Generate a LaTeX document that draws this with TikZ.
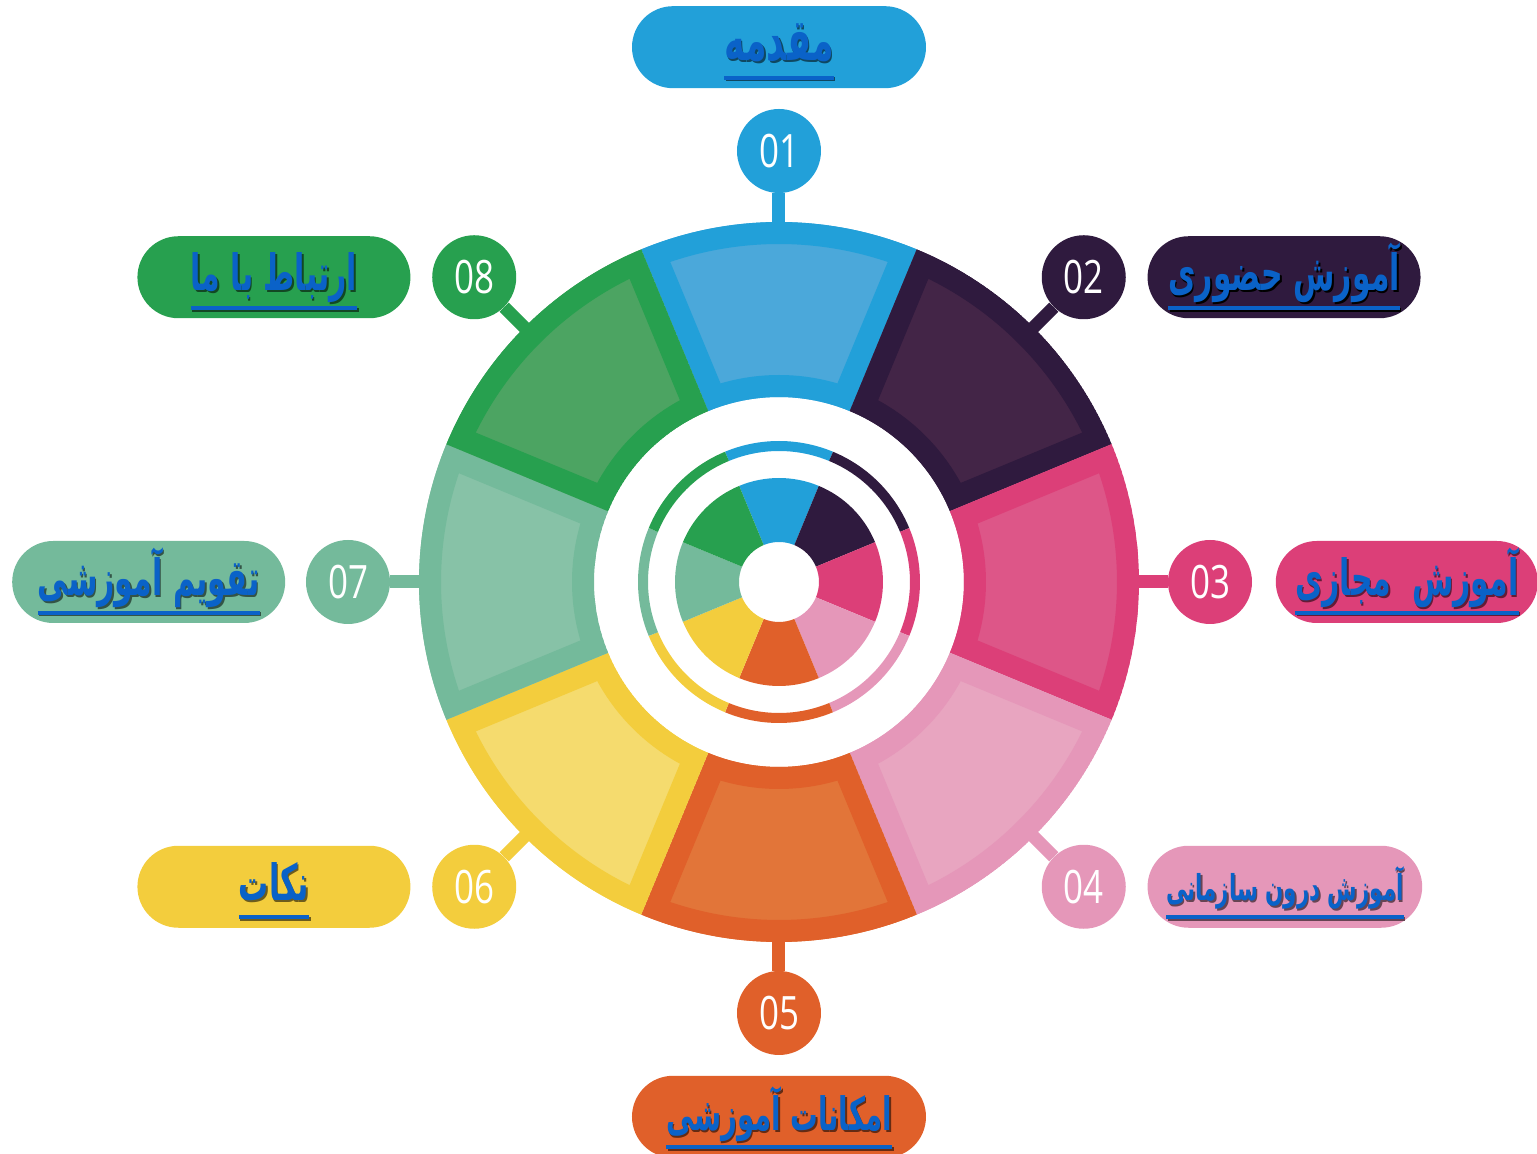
\documentclass[tikz,border=0pt]{standalone}
\usepackage{fontspec}
\setmainfont{Open Sans}
\newfontfamily\numfont[FakeStretch=0.76]{Open Sans}
\newfontfamily\arabicfont[Script=Arabic,FakeStretch=0.6]{DejaVu Sans}
\TeXXeTstate=1
\usetikzlibrary{positioning,shapes.misc}

\definecolor{blueD}{HTML}{22A0D9}   \definecolor{blueL}{HTML}{4BA8DA}
\definecolor{purpleD}{HTML}{2F1A3E} \definecolor{purpleL}{HTML}{432547}
\definecolor{pinkD}{HTML}{DC3F78}   \definecolor{pinkL}{HTML}{DD5688}
\definecolor{roseD}{HTML}{E597B9}   \definecolor{roseL}{HTML}{E8A5C0}
\definecolor{orangeD}{HTML}{E0602A} \definecolor{orangeL}{HTML}{E27539}
\definecolor{yellowD}{HTML}{F3CD3D} \definecolor{yellowL}{HTML}{F5DB6E}
\definecolor{tealD}{HTML}{74BA9B}   \definecolor{tealL}{HTML}{87C2A7}
\definecolor{greenD}{HTML}{27A04F}  \definecolor{greenL}{HTML}{4CA462}
\definecolor{linkblue}{HTML}{0A62C8}

% underlined persian label, with a soft shadow
\newcommand\ulbox[2]{{\color{#1}\vbox{\hbox{\arabicfont\bfseries\smash{#2}\vrule height 24pt depth 0pt width 0pt}\kern7.5pt\hrule height 2pt}}}
\newcommand\lbl[2]{\rlap{\kern0.8pt\raisebox{-0.8pt}{\ulbox{#1}{#2}}}\ulbox{linkblue}{#2}}

\begin{document}
\begin{tikzpicture}[x=0.5pt,y=0.5pt,
    numdot/.style={circle,fill=#1,text=white,minimum size=42pt,inner sep=0pt,
      font=\numfont\fontsize{23}{23}\selectfont},
    pill/.style={rounded rectangle,fill=#1,minimum width=136.5pt,minimum height=41pt,
      inner sep=0pt,font=\fontsize{25}{28}\selectfont},
    stub/.style={draw=#1,line width=6.5pt}]
\useasboundingbox (-779,-572) rectangle (758,582);

% wheel
\foreach \i/\c in {1/blue,2/purple,3/pink,4/rose,5/orange,6/yellow,7/teal,8/green}{
  \pgfmathsetmacro\a{135-45*\i}
  \begin{scope}
    \clip (\a-22.5:185) arc[start angle=\a-22.5,end angle=\a+22.5,radius=185]
      -- (\a+22.5:360) arc[start angle=\a+22.5,end angle=\a-22.5,radius=360] -- cycle;
    \fill[\c L] (\a-22.5:185) arc[start angle=\a-22.5,end angle=\a+22.5,radius=185]
      -- (\a+22.5:360) arc[start angle=\a+22.5,end angle=\a-22.5,radius=360] -- cycle;
    \draw[\c D,line width=22pt] (\a-22.5:185) arc[start angle=\a-22.5,end angle=\a+22.5,radius=185]
      -- (\a+22.5:360) arc[start angle=\a+22.5,end angle=\a-22.5,radius=360] -- cycle;
  \end{scope}
  \draw[\c D,line width=5pt] (\a-22.5:136) arc[start angle=\a-22.5,end angle=\a+22.5,radius=136];
  \fill[\c D] (\a-22.5:40) arc[start angle=\a-22.5,end angle=\a+22.5,radius=40]
    -- (\a+22.5:104) arc[start angle=\a+22.5,end angle=\a-22.5,radius=104] -- cycle;
  \coordinate (w\i) at (\a:355);
  \node[numdot=\c D] (n\i) at (\a:431) {0\i};
  \draw[stub=\c D] (n\i) -- (w\i);
}

% labels
\node[pill=blueD,minimum width=147pt,font=\fontsize{29}{30}\selectfont,above=10pt of n1] (l1) {\lbl{blueD!45!black}{\beginR مقدمه\endR}};
\node[pill=purpleD,right=10.5pt of n2] (l2) {\lbl{black}{\beginR آموزش حضوری\endR}};
\node[pill=pinkD,minimum width=131pt,right=11.5pt of n3] (l3) {\lbl{pinkD!45!black}{\beginR آموزش\ \ مجازی\endR}};
\node[pill=roseD,font=\fontsize{17.8}{22}\selectfont,right=10.5pt of n4] (l4) {\lbl{roseD!45!black}{\beginR آموزش درون سازمانی\endR}};
\node[pill=orangeD,minimum width=147pt,font=\fontsize{23}{26}\selectfont,below=10pt of n5] (l5) {\lbl{orangeD!45!black}{\beginR امکانات آموزشی\endR}};
\node[pill=yellowD,left=10.5pt of n6] (l6) {\lbl{yellowD!45!black}{\beginR نکات\endR}};
\node[pill=tealD,left=10pt of n7] (l7) {\lbl{tealD!45!black}{\beginR تقویم آموزشی\endR}};
\node[pill=greenD,left=10.5pt of n8] (l8) {\lbl{greenD!45!black}{\beginR ارتباط با ما\endR}};
\end{tikzpicture}
\end{document}
